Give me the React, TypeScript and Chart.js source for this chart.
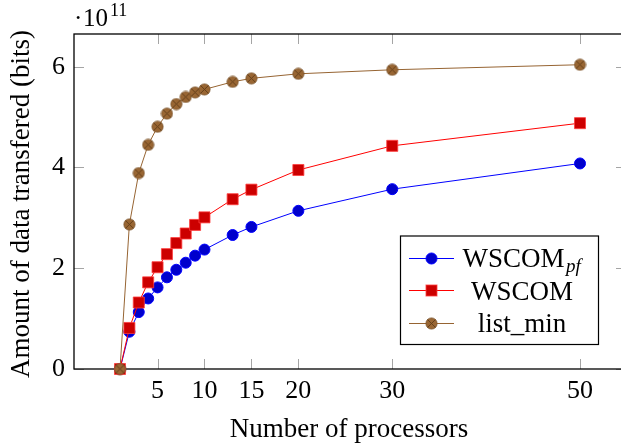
import React, { useEffect, useRef } from "react";
import { Chart, registerables } from "chart.js";

Chart.register(...registerables);

const processors = [1, 2, 3, 4, 5, 6, 7, 8, 9, 10, 13, 15, 20, 30, 50];
const wscomPf = [0, 0.74, 1.13, 1.4, 1.62, 1.82, 1.97, 2.11, 2.25, 2.37, 2.66, 2.82, 3.14, 3.57, 4.08];
const wscom = [0, 0.815, 1.32, 1.72, 2.02, 2.28, 2.5, 2.69, 2.86, 3.01, 3.37, 3.56, 3.95, 4.43, 4.88];
const listMin = [0, 2.87, 3.89, 4.45, 4.81, 5.07, 5.26, 5.4, 5.49, 5.55, 5.7, 5.77, 5.86, 5.94, 6.04];
const xTickValues = [5, 10, 15, 20, 30, 50];
const yTickValues = [0, 2, 4, 6];

const FONT = '"Liberation Serif", "Times New Roman", serif';
const BLUE_LINE = "rgb(0,0,255)";
const BLUE_FILL = "rgb(0,0,204)";
const RED_LINE = "rgb(255,0,0)";
const RED_FILL = "rgb(204,0,0)";
const BROWN_LINE = "rgb(150,100,50)";
const BROWN_FILL = "rgb(153,102,51)";

function makeOtimes(): HTMLCanvasElement {
  const c = document.createElement("canvas");
  c.width = 13;
  c.height = 13;
  const g = c.getContext("2d")!;
  g.beginPath();
  g.arc(6.5, 6.5, 5.6, 0, Math.PI * 2);
  g.fillStyle = BROWN_FILL;
  g.fill();
  g.lineWidth = 0.8;
  g.strokeStyle = "rgb(120,80,40)";
  g.stroke();
  const d = 5.6 * Math.SQRT1_2;
  g.beginPath();
  g.moveTo(6.5 - d, 6.5 - d);
  g.lineTo(6.5 + d, 6.5 + d);
  g.moveTo(6.5 - d, 6.5 + d);
  g.lineTo(6.5 + d, 6.5 - d);
  g.lineWidth = 0.9;
  g.strokeStyle = "rgb(95,60,25)";
  g.stroke();
  return c;
}

function drawMarker(ctx: CanvasRenderingContext2D, kind: string, x: number, y: number, img: HTMLCanvasElement) {
  ctx.save();
  if (kind === "circle") {
    ctx.beginPath();
    ctx.arc(x, y, 5.5, 0, Math.PI * 2);
    ctx.fillStyle = BLUE_FILL;
    ctx.fill();
    ctx.lineWidth = 1;
    ctx.strokeStyle = BLUE_LINE;
    ctx.stroke();
  } else if (kind === "rect") {
    ctx.fillStyle = RED_FILL;
    ctx.fillRect(x - 5.5, y - 5.5, 11, 11);
    ctx.lineWidth = 1;
    ctx.strokeStyle = "rgba(255,60,60,0.8)";
    ctx.strokeRect(x - 5.5, y - 5.5, 11, 11);
  } else {
    ctx.drawImage(img, x - 6.5, y - 6.5);
  }
  ctx.restore();
}

export default function App() {
  const ref = useRef<HTMLCanvasElement | null>(null);

  useEffect(() => {
    if (!ref.current) return;
    const otimes = makeOtimes();

    const pgfPlugin = {
      id: "pgfAxes",
      beforeDatasetsDraw(chart: any) {
        const { ctx, chartArea, scales } = chart;
        const { left, right, top, bottom } = chartArea;
        const xs = scales.x;
        const ys = scales.y;
        ctx.save();
        ctx.strokeStyle = "rgb(165,165,165)";
        ctx.lineWidth = 1;
        const TL = 10;
        xTickValues.forEach((v) => {
          const px = Math.round(xs.getPixelForValue(v)) + 0.5;
          ctx.beginPath();
          ctx.moveTo(px, bottom);
          ctx.lineTo(px, bottom - TL);
          ctx.moveTo(px, top);
          ctx.lineTo(px, top + TL);
          ctx.stroke();
        });
        yTickValues.forEach((v) => {
          const py = Math.round(ys.getPixelForValue(v)) + 0.5;
          ctx.beginPath();
          ctx.moveTo(left, py);
          ctx.lineTo(left + TL, py);
          ctx.moveTo(right, py);
          ctx.lineTo(right - TL, py);
          ctx.stroke();
        });
        ctx.strokeStyle = "#000";
        ctx.lineWidth = 1.3;
        ctx.strokeRect(left, top, right - left, bottom - top);
        ctx.restore();
      },
      afterDraw(chart: any) {
        const { ctx } = chart;
        ctx.save();
        ctx.fillStyle = "#000";
        // x title
        ctx.font = `27px ${FONT}`;
        ctx.textAlign = "center";
        ctx.textBaseline = "alphabetic";
        ctx.fillText("Number of processors", 349, 437);
        // y title
        ctx.save();
        ctx.translate(29, 204);
        ctx.rotate(-Math.PI / 2);
        ctx.fillText("Amount of data transfered (bits)", 0, 0);
        ctx.restore();
        // exponent
        ctx.textAlign = "left";
        ctx.font = `25px ${FONT}`;
        ctx.fillText("\u00b7", 74, 26);
        ctx.fillText("10", 83, 26);
        ctx.font = `18px ${FONT}`;
        ctx.fillText("11", 110, 16);

        // legend
        const bx = 400.5, by = 236, bw = 198, bh = 108.5;
        ctx.fillStyle = "#fff";
        ctx.fillRect(bx, by, bw, bh);
        ctx.strokeStyle = "#000";
        ctx.lineWidth = 1.2;
        ctx.strokeRect(bx, by, bw, bh);
        const rows = [
          { kind: "circle", color: BLUE_LINE, y: 258.5 },
          { kind: "rect", color: RED_LINE, y: 290.5 },
          { kind: "otimes", color: BROWN_LINE, y: 323.5 },
        ];
        rows.forEach((r) => {
          ctx.strokeStyle = r.color;
          ctx.lineWidth = 1;
          ctx.beginPath();
          ctx.moveTo(409, r.y);
          ctx.lineTo(454, r.y);
          ctx.stroke();
          drawMarker(ctx, r.kind, 431.5, r.y, otimes);
        });
        ctx.fillStyle = "#000";
        ctx.textBaseline = "alphabetic";
        // WSCOM_pf
        ctx.font = `27px ${FONT}`;
        const w1 = ctx.measureText("WSCOM").width;
        ctx.font = `italic 19px ${FONT}`;
        const w2 = ctx.measureText("pf").width + 2;
        const cx = 522;
        const sx = cx - (w1 + w2) / 2;
        ctx.textAlign = "left";
        ctx.font = `27px ${FONT}`;
        ctx.fillText("WSCOM", sx, 267);
        ctx.font = `italic 19px ${FONT}`;
        ctx.fillText("pf", sx + w1 + 1.5, 272);
        ctx.textAlign = "center";
        ctx.font = `27px ${FONT}`;
        ctx.fillText("WSCOM", cx, 299.5);
        ctx.fillText("list_min", cx, 332);
        ctx.restore();
      },
    };

    const mk = (arr: number[]) => processors.map((p, i) => ({ x: p, y: arr[i] }));

    const chart = new Chart(ref.current, {
      type: "line",
      data: {
        datasets: [
          {
            label: "list_min",
            data: mk(listMin),
            borderColor: BROWN_LINE,
            backgroundColor: BROWN_FILL,
            borderWidth: 1,
            pointStyle: otimes as any,
            pointRadius: 6,
            clip: false as any,
          },
          {
            label: "WSCOM",
            data: mk(wscom),
            borderColor: RED_LINE,
            backgroundColor: RED_FILL,
            pointBackgroundColor: RED_FILL,
            pointBorderColor: "rgba(255,60,60,0.8)",
            pointBorderWidth: 1,
            borderWidth: 1,
            pointStyle: "rect",
            pointRadius: 7.8,
            clip: false as any,
          },
          {
            label: "WSCOM_pf",
            data: mk(wscomPf),
            borderColor: BLUE_LINE,
            backgroundColor: BLUE_FILL,
            pointBackgroundColor: BLUE_FILL,
            pointBorderColor: BLUE_LINE,
            pointBorderWidth: 1,
            borderWidth: 1,
            pointStyle: "circle",
            pointRadius: 5.5,
            clip: false as any,
          },
        ],
      },
      options: {
        animation: false,
        responsive: false,
        devicePixelRatio: 1,
        layout: { autoPadding: false, padding: { left: 0, right: 2, top: 34, bottom: 0 } },
        plugins: { legend: { display: false }, tooltip: { enabled: false } },
        scales: {
          x: {
            type: "linear",
            min: -3.9,
            max: 54.9,
            grid: { display: false, drawTicks: false },
            border: { display: false },
            afterBuildTicks: (axis: any) => {
              axis.ticks = xTickValues.map((v) => ({ value: v }));
            },
            afterFit: (axis: any) => {
              axis.height = 78;
              axis.paddingLeft = 0;
              axis.paddingRight = 0;
            },
            ticks: {
              color: "#000",
              font: { family: FONT, size: 26 },
              padding: 7,
              maxRotation: 0,
              autoSkip: false,
              callback: (v: any) => String(v),
            },
          },
          y: {
            type: "linear",
            min: 0,
            max: 6.65,
            grid: { display: false, drawTicks: false },
            border: { display: false },
            afterBuildTicks: (axis: any) => {
              axis.ticks = yTickValues.map((v) => ({ value: v }));
            },
            afterFit: (axis: any) => {
              axis.width = 74;
              axis.paddingTop = 0;
              axis.paddingBottom = 0;
            },
            ticks: {
              color: "#000",
              font: { family: FONT, size: 26 },
              padding: 9,
              autoSkip: false,
              callback: (v: any) => String(v),
            },
          },
        },
      },
      plugins: [pgfPlugin],
    });

    return () => chart.destroy();
  }, []);

  return (
    <div style={{ position: "fixed", left: 0, top: 0, width: 621, height: 447, overflow: "hidden", background: "#fff" }}>
      <canvas ref={ref} width={628} height={447} style={{ display: "block", width: 628, height: 447 }} />
    </div>
  );
}
